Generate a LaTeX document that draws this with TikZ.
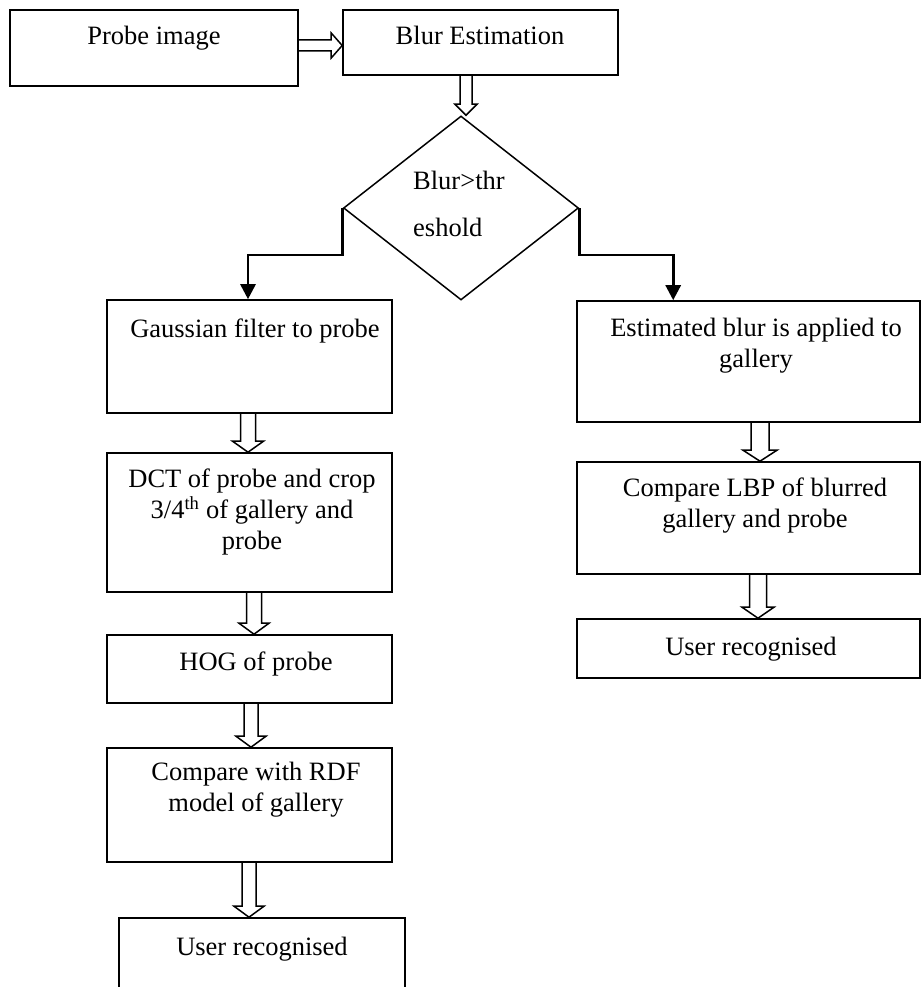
\documentclass[tikz,border=0pt]{standalone}
\usepackage{fontspec}
\setmainfont{Liberation Serif}
\usetikzlibrary{shapes.geometric,arrows.meta,calc}
\tikzset{
  box/.style={draw, line width=1.6pt, rectangle, inner sep=0pt},
  txt/.style={inner sep=0pt, align=center, font=\fontsize{26.5}{31}\selectfont},
  hol/.style={draw, line width=1.5pt, line join=miter},
  elbow/.style={line width=2.8pt, -{Triangle[width=15pt,length=15pt]}}
}
\newcommand{\hollowdn}[5]{%
  \draw[hol] let \p1=(#2.south), \p2=(#3.north) in
    (#1pt-#4pt,\y1) -- (#1pt-#4pt,\y2+11pt) -- (#1pt-#5pt,\y2+11pt) -- (#1pt,\y2)
    -- (#1pt+#5pt,\y2+11pt) -- (#1pt+#4pt,\y2+11pt) -- (#1pt+#4pt,\y1);}
\begin{document}
\begin{tikzpicture}[x=1pt,y=-1pt]
\useasboundingbox (0,0) rectangle (922,987);
% boxes
\node[box, minimum width=288pt, minimum height=76pt]  (probe) at (154,48) {};
\node[box, minimum width=275pt, minimum height=65pt]  (blur)  at (480.5,42.5) {};
\node[draw, line width=1.5pt, diamond, inner sep=0pt, minimum width=235pt, minimum height=184pt] (dia) at (461,208) {};
\node[box, minimum width=285pt, minimum height=113pt] (gauss) at (249.5,356.5) {};
\node[box, minimum width=285pt, minimum height=139pt] (dct)   at (249.5,522.5) {};
\node[box, minimum width=285pt, minimum height=68pt]  (hog)   at (249.5,669) {};
\node[box, minimum width=285pt, minimum height=114pt] (cmp)   at (249.5,805) {};
\node[box, minimum width=286pt, minimum height=82pt]  (userl) at (262,959) {};
\node[box, minimum width=343pt, minimum height=121pt] (est)   at (748.5,361.5) {};
\node[box, minimum width=343pt, minimum height=112pt] (lbp)   at (748.5,518) {};
\node[box, minimum width=343pt, minimum height=59pt]  (userr) at (748.5,648.5) {};
% texts
\node[txt, anchor=base] (tprobe) at (154,45) {Probe image};
\node[txt, anchor=base] (tblur) at (480,45) {Blur Estimation};
\node[txt, anchor=north west, align=left, font=\fontsize{26.5}{47}\selectfont] (tdia) at (413,171) {Blur>thr\\eshold};
\node[txt, anchor=base] (tgauss) at (255,337) {Gaussian filter to probe};
\node[txt, anchor=north] (tdct) at (252,469) {DCT of probe and crop\\3/4\textsuperscript{th} of gallery and\\probe};
\node[txt, anchor=base] (thog) at (256,670) {HOG of probe};
\node[txt, anchor=north] (tcmp) at (256,762) {Compare with RDF\\model of gallery};
\node[txt, anchor=base] (tuserl) at (262,955) {User recognised};
\node[txt, anchor=north] (test) at (756,318) {Estimated blur is applied to\\gallery};
\node[txt, anchor=north] (tlbp) at (755,478) {Compare LBP of blurred\\gallery and probe};
\node[txt, anchor=base] (tuserr) at (751,655) {User recognised};
% hollow arrows
\draw[hol] let \p1=(probe.east), \p2=(blur.west) in
  (\x1,-40pt) -- (\x2-11pt,-40pt) -- (\x2-11pt,-33pt) -- (\x2,-45.5pt)
  -- (\x2-11pt,-58pt) -- (\x2-11pt,-51pt) -- (\x1,-51pt);
\hollowdn{466}{blur}{dia}{6}{11}
\hollowdn{248}{gauss}{dct}{7.5}{15.5}
\hollowdn{254}{dct}{hog}{7.5}{15}
\hollowdn{251}{hog}{cmp}{7}{15}
\hollowdn{249}{cmp}{userl}{7}{15}
\hollowdn{760}{est}{lbp}{9}{17}
\hollowdn{758}{lbp}{userr}{8.5}{16}
% decision branches
\coordinate (gin) at ($(gauss.north)+(-1.5,0)$);
\coordinate (ein) at ($(est.north west)+(97,0)$);
\draw[elbow] (dia.west) -- ++(0,47) -| (gin);
\draw[elbow] (dia.east) -- ++(0,47) -| (ein);
\end{tikzpicture}
\end{document}
